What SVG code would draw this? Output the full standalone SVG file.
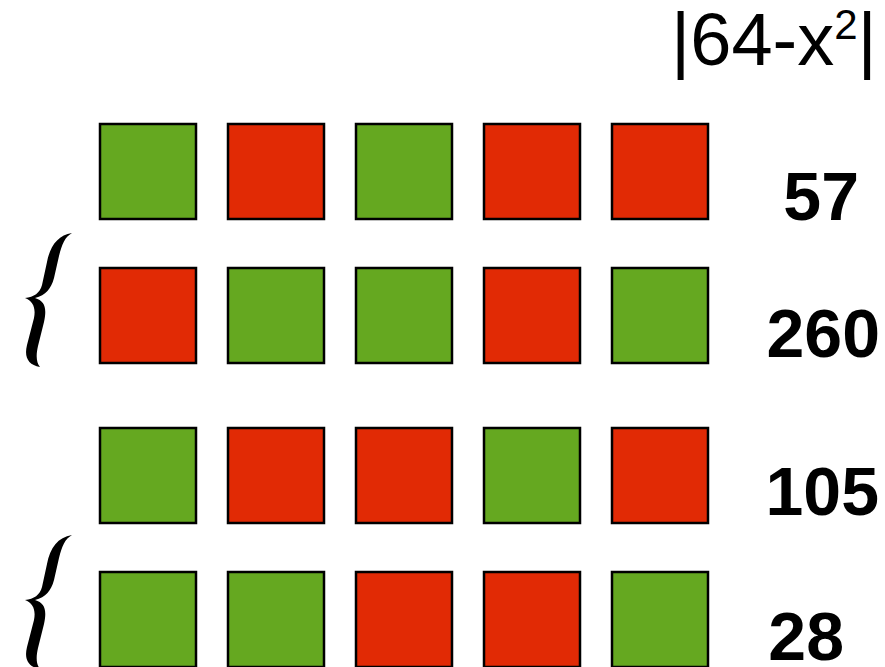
<svg xmlns="http://www.w3.org/2000/svg" width="885" height="667" viewBox="0 0 885 667">
<defs>
<style>
.g{fill:#65A820;stroke:#000;stroke-width:2.5}
.r{fill:#E12A05;stroke:#000;stroke-width:2.5}
.num{font-family:"Liberation Sans",Arial,sans-serif;font-weight:bold;font-size:68px;fill:#000}
.title{font-family:"Liberation Sans",Arial,sans-serif;font-size:74px;fill:#000}
.brace{fill:#000}
</style>
<path id="bracePath" d="M72,233 C58,235 50,246 47,262 L42,285 C40,293 34,297 25,298 C33,301 36,308 34,318 L27,345 C24,357 28,365 40,367 C36,362 36,355 38,346 L44,322 C47,308 45,301 35,298 C46,295 51,289 54,278 L59,256 C62,244 65,237 72,233 Z"/>
</defs>
<rect width="885" height="667" fill="#fff"/>
<g id="title"><text class="title" x="671" y="65">|64-x<tspan font-size="42" dy="-26">2</tspan><tspan dy="26">|</tspan></text></g>
<g id="row1">
<rect class="g" x="100" y="124" width="96" height="95"/>
<rect class="r" x="228" y="124" width="96" height="95"/>
<rect class="g" x="356" y="124" width="96" height="95"/>
<rect class="r" x="484" y="124" width="96" height="95"/>
<rect class="r" x="612" y="124" width="96" height="95"/>
<text class="num" x="859" y="220" text-anchor="end">57</text>
</g>
<g id="row2">
<rect class="r" x="100" y="268" width="96" height="95"/>
<rect class="g" x="228" y="268" width="96" height="95"/>
<rect class="g" x="356" y="268" width="96" height="95"/>
<rect class="r" x="484" y="268" width="96" height="95"/>
<rect class="g" x="612" y="268" width="96" height="95"/>
<text class="num" x="880" y="357" text-anchor="end">260</text>
</g>
<g id="row3">
<rect class="g" x="100" y="428" width="96" height="95"/>
<rect class="r" x="228" y="428" width="96" height="95"/>
<rect class="r" x="356" y="428" width="96" height="95"/>
<rect class="g" x="484" y="428" width="96" height="95"/>
<rect class="r" x="612" y="428" width="96" height="95"/>
<text class="num" x="879" y="515" text-anchor="end">105</text>
</g>
<g id="row4">
<rect class="g" x="100" y="572" width="96" height="95"/>
<rect class="g" x="228" y="572" width="96" height="95"/>
<rect class="r" x="356" y="572" width="96" height="95"/>
<rect class="r" x="484" y="572" width="96" height="95"/>
<rect class="g" x="612" y="572" width="96" height="95"/>
<text class="num" x="844" y="660" text-anchor="end">28</text>
</g>
<g id="brace1"><use href="#bracePath" class="brace"/></g>
<g id="brace2"><use href="#bracePath" class="brace" transform="translate(0,302)"/></g>
</svg>
